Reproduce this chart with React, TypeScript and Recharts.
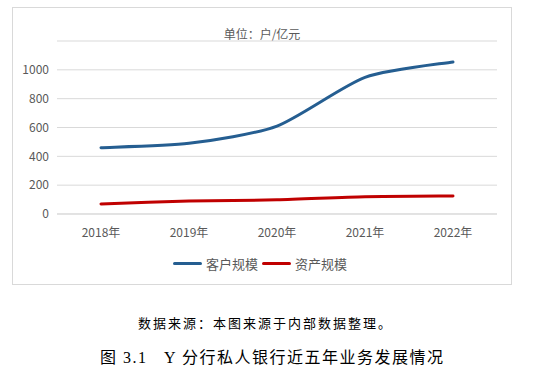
import { CartesianGrid, Legend, Line, LineChart, XAxis, YAxis } from "recharts";

const years = ["2018年", "2019年", "2020年", "2021年", "2022年"];
const customers = [460, 490, 610, 948, 1055];
const assets = [70, 90, 98, 120, 125];
const yTicks = [0, 200, 400, 600, 800, 1000];

const seriesNames = ["客户规模", "资产规模"];
const colors = ["#255e91", "#c00000"];

const data = years.map((year, i) => ({
  year,
  customers: customers[i],
  assets: assets[i],
}));

const sans = '"Noto Sans CJK SC", "Noto Sans", sans-serif';
const serif = '"Liberation Serif", "DejaVu Serif", "Noto Sans CJK SC", serif';

// excel-like smoothing (catmull-rom style), passed to Line as a curve factory
const smooth = (context: any) => {
  let pts: number[][] = [];
  return {
    areaStart() {},
    areaEnd() {},
    lineStart() {
      pts = [];
    },
    point(x: number, y: number) {
      pts.push([+x, +y]);
    },
    lineEnd() {
      if (!pts.length) return;
      const k = 0.12;
      context.moveTo(pts[0][0], pts[0][1]);
      for (let i = 0; i < pts.length - 1; i++) {
        const p0 = pts[Math.max(i - 1, 0)];
        const p1 = pts[i];
        const p2 = pts[i + 1];
        const p3 = pts[Math.min(i + 2, pts.length - 1)];
        context.bezierCurveTo(
          p1[0] + (p2[0] - p0[0]) * k,
          p1[1] + (p2[1] - p0[1]) * k,
          p2[0] - (p3[0] - p1[0]) * k,
          p2[1] - (p3[1] - p1[1]) * k,
          p2[0],
          p2[1]
        );
      }
    },
  };
};

const LegendContent = () => (
  <div style={{ display: "flex", justifyContent: "center", alignItems: "center", fontFamily: sans, fontSize: 13, color: "#595959", paddingTop: 10, paddingLeft: 14 }}>
    {seriesNames.map((name, i) => (
      <div key={name} style={{ display: "flex", alignItems: "center", marginRight: 4 }}>
        <span style={{ display: "inline-block", width: 29, height: 3, background: colors[i], borderRadius: 2, marginRight: 4 }} />
        <span>{name}</span>
      </div>
    ))}
  </div>
);

const App = () => {
  return (
    <div style={{ position: "absolute", left: 0, top: 0, width: 547, height: 376, background: "#fff" }}>
      <div
        style={{
          position: "absolute",
          left: 12,
          top: 7,
          width: 498,
          height: 276,
          border: "1px solid #d9d9d9",
        }}
      >
        <div
          style={{
            position: "absolute",
            top: 17,
            left: 0,
            width: 498,
            textAlign: "center",
            fontFamily: sans,
            fontSize: 12,
            color: "#595959",
          }}
        >
          单位：户/亿元
        </div>
        <LineChart
          width={498}
          height={276}
          data={data}
          margin={{ top: 33, right: 14, left: 0, bottom: 12 }}
        >
          <CartesianGrid vertical={false} stroke="#d9d9d9" />
          <XAxis
            dataKey="year"
            axisLine={{ stroke: "#d9d9d9" }}
            tickLine={false}
            height={30}
            padding={{ left: 44, right: 44 }}
            tick={{ fill: "#595959", fontSize: 12, fontFamily: sans }}
            tickMargin={8}
          />
          <YAxis
            domain={[0, 1200]}
            ticks={yTicks}
            axisLine={false}
            tickLine={false}
            width={44}
            tick={{ fill: "#595959", fontSize: 12, fontFamily: sans }}
          />
          <Legend verticalAlign="bottom" height={28} content={<LegendContent />} />
          <Line
            type={smooth as any}
            dataKey="customers"
            name={seriesNames[0]}
            stroke={colors[0]}
            strokeWidth={3}
            strokeLinecap="round"
            dot={false}
            isAnimationActive={false}
          />
          <Line
            type={smooth as any}
            dataKey="assets"
            name={seriesNames[1]}
            stroke={colors[1]}
            strokeWidth={3}
            strokeLinecap="round"
            dot={false}
            isAnimationActive={false}
          />
        </LineChart>
      </div>
      <div
        style={{
          position: "absolute",
          left: 138,
          top: 313,
          fontFamily: serif,
          fontSize: 13,
          letterSpacing: 2,
          color: "#000",
          whiteSpace: "nowrap",
        }}
      >
        数据来源：本图来源于内部数据整理。
      </div>
      <div
        style={{
          position: "absolute",
          left: 100,
          top: 344,
          fontFamily: serif,
          fontSize: 16,
          letterSpacing: 1.5,
          color: "#000",
          whiteSpace: "pre",
        }}
      >
        {"图 3.1   Y 分行私人银行近五年业务发展情况"}
      </div>
    </div>
  );
};

export default App;
